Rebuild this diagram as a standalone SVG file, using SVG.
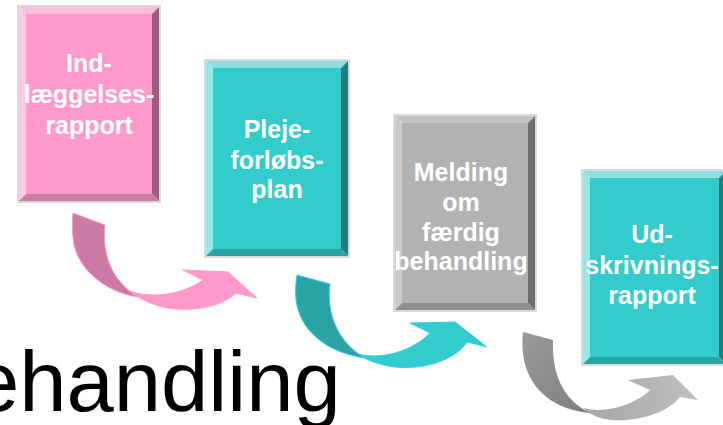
<svg xmlns="http://www.w3.org/2000/svg" width="723" height="425" viewBox="0 0 723 425">
<defs>
<style>
.lbl{font-family:"Liberation Sans",Arial,sans-serif;font-weight:bold;font-size:25px;fill:#FFFFFF;text-anchor:middle}
.frame{stroke:#D9D9D9;stroke-width:2}
.big{font-family:"Liberation Sans",Arial,sans-serif;font-size:85px;fill:#000000}
</style>
<linearGradient id="gDark" x1="0" y1="0" x2="1" y2="1">
<stop offset="0" stop-color="#9A9A9A"/><stop offset="1" stop-color="#7E7E7E"/>
</linearGradient>
<linearGradient id="gLight" x1="0" y1="0" x2="1" y2="0">
<stop offset="0" stop-color="#A6A6A6"/><stop offset="1" stop-color="#BFBFBF"/>
</linearGradient>
</defs>
<rect width="723" height="425" fill="#FFFFFF"/>

<text class="big" x="-28" y="411">ehandling</text>

<g id="connectors">
<g id="arrow1">
<path d="M130,291 C150,299 183,295 203,280 L183,270 L228,272 L257,298 L236,293 C222,306 195,312 168,308 C152,305 140,299 130,291 Z" fill="#FF99CC" stroke="#FF99CC" stroke-width="1"/>
<path d="M73,213 L105,225 C102,252 110,280 138,297 C105,292 80,270 74,245 C72,232 72,222 73,213 Z" fill="#CC79A3" stroke="#FF99CC" stroke-width="1"/>
</g>
<g id="arrow2">
<path d="M358,354 C380,360 412,352 430,333 L410,323 L455,322 L487,347 L467,342 C455,360 425,370 395,367 C380,365 368,361 358,354 Z" fill="#33CCCC" stroke="#33CCFF" stroke-width="1"/>
<path d="M297,275 L330,284 C326,312 337,342 365,358 C325,352 300,330 296,300 C295,290 296,282 297,275 Z" fill="#29A3A3" stroke="#33CCFF" stroke-width="1"/>
</g>
<g id="arrow3">
<path d="M583,408 C605,414 635,405 650,390 L628,380 L673,375 L698,400 L680,397 C668,412 640,422 612,420 C600,419 590,415 583,408 Z" fill="url(#gLight)"/>
<path d="M523,332 L553,340 C552,370 560,398 590,413 C555,410 530,390 524,360 C522,350 522,340 523,332 Z" fill="url(#gDark)"/>
</g>
</g>

<g id="node1">
<polygon points="18,6 160,6 152,14 26,14" fill="#FFBDDE"/>
<polygon points="18,6 26,14 26,194 18,202" fill="#FFC8E4"/>
<polygon points="160,6 160,202 152,194 152,14" fill="#A05C80"/>
<polygon points="18,202 26,194 152,194 160,202" fill="#CC7AA3"/>
<rect x="26" y="14" width="126" height="180" fill="#FF99CC"/>
<rect x="18" y="6" width="142" height="196" fill="none" class="frame"/>
<text class="lbl" x="89" y="72">Ind-</text>
<text class="lbl" x="89" y="103">læggelses-</text>
<text class="lbl" x="89" y="134">rapport</text>
</g>

<g id="node2">
<polygon points="205,60 349,60 341,68 213,68" fill="#8FDEDE"/>
<polygon points="205,60 213,68 213,249 205,257" fill="#99E6E6"/>
<polygon points="349,60 349,257 341,249 341,68" fill="#1F7F7F"/>
<polygon points="205,257 213,249 341,249 349,257" fill="#29A3A3"/>
<rect x="213" y="68" width="128" height="181" fill="#33CCCC"/>
<rect x="205" y="60" width="144" height="197" fill="none" class="frame"/>
<text class="lbl" x="277" y="138">Pleje-</text>
<text class="lbl" x="277" y="169">forløbs-</text>
<text class="lbl" x="277" y="198">plan</text>
</g>

<g id="node3">
<polygon points="394,115 536,115 528,123 402,123" fill="#C2C2C2"/>
<polygon points="394,115 402,123 402,303 394,311" fill="#CACACA"/>
<polygon points="536,115 536,311 528,303 528,123" fill="#6E6E6E"/>
<polygon points="394,311 402,303 528,303 536,311" fill="#8E8E8E"/>
<rect x="402" y="123" width="126" height="180" fill="#B2B2B2"/>
<rect x="394" y="115" width="142" height="196" fill="none" class="frame"/>
<text class="lbl" x="461" y="181">Melding</text>
<text class="lbl" x="461" y="211">om</text>
<text class="lbl" x="461" y="241">færdig</text>
<text class="lbl" x="461" y="270">behandling</text>
</g>

<g id="node4">
<polygon points="582,170 727,170 719,178 590,178" fill="#8FDEDE"/>
<polygon points="582,170 590,178 590,357 582,365" fill="#99E6E6"/>
<polygon points="727,170 727,365 719,357 719,178" fill="#1F7F7F"/>
<polygon points="582,365 590,357 719,357 727,365" fill="#29A3A3"/>
<rect x="590" y="178" width="129" height="179" fill="#33CCCC"/>
<rect x="582" y="170" width="145" height="195" fill="none" class="frame"/>
<text class="lbl" x="652" y="243">Ud-</text>
<text class="lbl" x="652" y="274">skrivnings-</text>
<text class="lbl" x="652" y="304">rapport</text>
</g>
</svg>
